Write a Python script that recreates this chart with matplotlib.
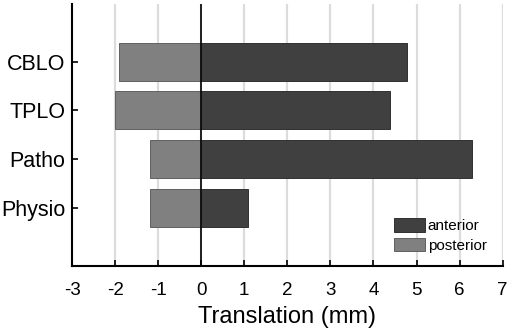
import matplotlib
matplotlib.use("Agg")
import matplotlib.pyplot as plt

categories = ["Physio", "Patho", "TPLO", "CBLO"]
anterior = [1.08, 6.28, 4.38, 4.78]
posterior = [-1.2, -1.2, -2.0, -1.9]
xticks = [-3, -2, -1, 0, 1, 2, 3, 4, 5, 6, 7]

plt.rcParams['font.family'] = ['Liberation Sans', 'DejaVu Sans']

fig = plt.figure(figsize=(5.1, 3.32), dpi=100)
ax = fig.add_axes([0.1412, 0.1997, 0.8445, 0.788])

ypos = list(range(1, len(categories) + 1))
for x in xticks[1:]:
    ax.axvline(x, color='#dcdcdc', lw=1.6, zorder=0)
ax.barh(ypos, anterior, height=0.78, color='#404040', edgecolor='#303030', lw=0.7, label='anterior', zorder=2)
ax.barh(ypos, posterior, height=0.78, color='#808080', edgecolor='#606060', lw=0.7, label='posterior', zorder=2)
ax.axvline(0, color='black', lw=1.2, zorder=3)

ax.set_xlim(-3, 7)
ax.set_ylim(-0.19, 5.18)
ax.set_xticks(xticks)
ax.set_xticklabels([str(v) for v in xticks])
ax.set_yticks(ypos)
ax.set_yticklabels(categories)
ax.tick_params(direction='in', length=4, width=1.2)
ax.tick_params(axis='y', labelsize=15.5, pad=5)
ax.tick_params(axis='x', labelsize=13.5, pad=12)
ax.set_xlabel('Translation (mm)', fontsize=17, labelpad=5)
for s in ['top', 'right']:
    ax.spines[s].set_visible(False)
for s in ['left', 'bottom']:
    ax.spines[s].set_linewidth(1.5)

leg = ax.legend(loc='lower right', frameon=False, fontsize=11, handlelength=2.0, handleheight=1.0,
                handletextpad=0.2, labelspacing=0.3, borderaxespad=0, borderpad=0,
                bbox_to_anchor=(0.963, 0.05))

fig.savefig('out.png', dpi=100)
